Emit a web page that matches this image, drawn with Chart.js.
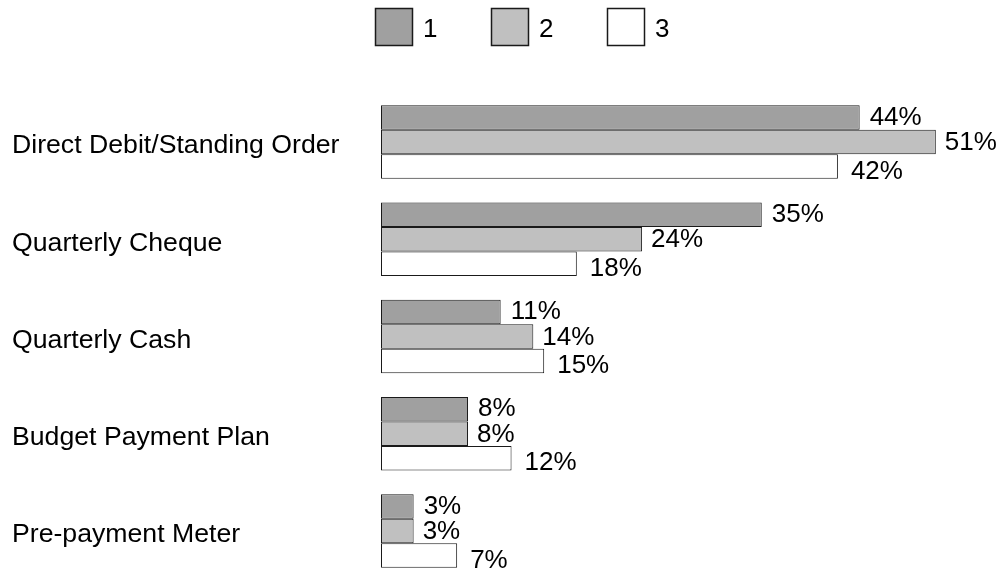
<!DOCTYPE html>
<html>
<head>
<meta charset="utf-8">
<script src="https://cdn.jsdelivr.net/npm/chart.js@4/dist/chart.umd.min.js"></script>
<style>
  html, body { margin: 0; padding: 0; background: #ffffff; }
  #wrap { width: 1007px; height: 573px; position: relative; }
</style>
</head>
<body>
<div id="wrap"><canvas id="chart" width="1007" height="573"></canvas></div>
<script>
// Payment methods and share of respondents (%) in each of the three groups
const categories = [
  'Direct Debit/Standing Order',
  'Quarterly Cheque',
  'Quarterly Cash',
  'Budget Payment Plan',
  'Pre-payment Meter'
];
const seriesNames = ['1', '2', '3'];
const series1 = [44, 35, 11, 8, 3];
const series2 = [51, 24, 14, 8, 3];
const series3 = [42, 18, 15, 12, 7];

const fills = ['#a0a0a0', '#c0c0c0', '#ffffff'];
const edge = '#1a1a1a';
const FONT = "'Liberation Sans', Arial, sans-serif";
const FONT_SIZE = 26.67;

Chart.defaults.font.family = FONT;
Chart.defaults.font.size = FONT_SIZE;
Chart.defaults.color = '#000000';

// Percentage written just past the end of every bar
const valueLabels = {
  id: 'valueLabels',
  afterDatasetsDraw(chart) {
    const ctx = chart.ctx;
    const gapX = [10, 9, 13];
    const nudgeY = [0, 1, 5];
    ctx.save();
    ctx.font = '26px ' + FONT;
    ctx.fillStyle = '#000000';
    ctx.textAlign = 'left';
    ctx.textBaseline = 'middle';
    chart.data.datasets.forEach((ds, i) => {
      const meta = chart.getDatasetMeta(i);
      meta.data.forEach((bar, j) => {
        ctx.fillText(ds.data[j] + '%', bar.x + gapX[i], bar.y + nudgeY[i]);
      });
    });
    ctx.restore();
  }
};

// Row of square swatches with the series names across the top
const swatchLegend = {
  id: 'swatchLegend',
  afterDraw(chart) {
    const ctx = chart.ctx;
    const box = 38, step = 116, x0 = 375, y0 = 8;
    ctx.save();
    ctx.font = '26px ' + FONT;
    ctx.textAlign = 'left';
    ctx.textBaseline = 'middle';
    chart.data.datasets.forEach((ds, i) => {
      const x = x0 + i * step;
      ctx.fillStyle = ds.backgroundColor;
      ctx.fillRect(x, y0, box, box);
      ctx.lineWidth = 1.5;
      ctx.strokeStyle = ds.borderColor;
      ctx.strokeRect(x + 0.5, y0 + 0.5, box - 1, box - 1);
      ctx.fillStyle = '#000000';
      ctx.fillText(ds.label, x + box + 10, y0 + box / 2 + 3);
    });
    ctx.restore();
  }
};

const values = [series1, series2, series3];

new Chart(document.getElementById('chart'), {
  type: 'bar',
  data: {
    labels: categories,
    datasets: values.map((v, i) => ({
      label: seriesNames[i],
      data: v,
      backgroundColor: fills[i],
      borderColor: edge,
      borderWidth: 1,
      borderSkipped: false,
      clip: false
    }))
  },
  options: {
    indexAxis: 'y',
    responsive: false,
    animation: false,
    layout: { padding: { left: 12, right: 7, top: 142, bottom: 42 } },
    datasets: { bar: { barPercentage: 1, categoryPercentage: 0.755 } },
    plugins: {
      legend: { display: false },
      tooltip: { enabled: false }
    },
    scales: {
      x: {
        display: false,
        min: 0,
        max: 56.9
      },
      y: {
        offset: false,
        grid: { display: false },
        border: { display: false },
        ticks: {
          autoSkip: false,
          crossAlign: 'far',
          labelOffset: 4,
          color: '#000000',
          font: { size: FONT_SIZE }
        },
        afterFit(axis) { axis.width = 369; }
      }
    }
  },
  plugins: [valueLabels, swatchLegend]
});
</script>
</body>
</html>
